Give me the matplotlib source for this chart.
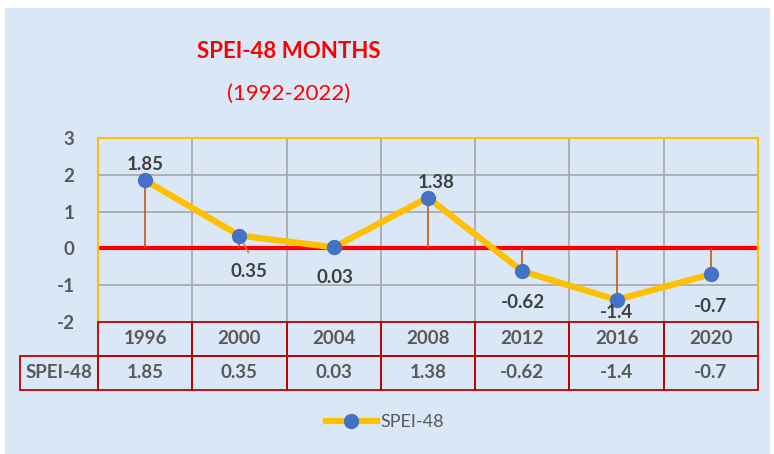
import matplotlib.pyplot as plt
from matplotlib.patches import Rectangle
from matplotlib.lines import Line2D

years = ["1996", "2000", "2004", "2008", "2012", "2016", "2020"]
spei = [1.85, 0.35, 0.03, 1.38, -0.62, -1.4, -0.7]
yticks = [-2, -1, 0, 1, 2, 3]
series_name = "SPEI-48"

W, H = 774, 454
bg = "#DAE7F6"
gold = "#FFC000"
dark = "#595959"
red_border = "#C00000"
fnt = "Lato"
fs = 13.5

fig = plt.figure(figsize=(W / 100, H / 100), dpi=100)
fig.patch.set_facecolor("white")
fig.patches.append(Rectangle((5 / W, 0), (W - 10) / W, (H - 8) / H,
                             transform=fig.transFigure, color=bg, zorder=-10))

def px(x0, y0, x1, y1):
    return [x0 / W, 1 - y1 / H, (x1 - x0) / W, (y1 - y0) / H]

ax = fig.add_axes(px(98, 138, 758, 322))
ax.set_facecolor("none")
n = len(years)
xs = list(range(n))
ax.set_xlim(-0.5, n - 0.5)
ax.set_ylim(-2, 3)

# grid
for y in yticks:
    ax.axhline(y, color="#A6A6A6", lw=1.2, zorder=1)
for i in range(1, n):
    ax.axvline(i - 0.5, color="#A6A6A6", lw=1.2, zorder=1)
for s in ["top", "left", "right"]:
    ax.spines[s].set_color(gold)
    ax.spines[s].set_linewidth(1.5)
ax.spines["bottom"].set_visible(False)
ax.axhline(0, color="#FF0000", lw=3, zorder=2)

ax.set_xticks([])
ax.set_yticks(yticks)
ax.set_yticklabels([str(t) for t in yticks], fontfamily=fnt, fontweight="bold",
                   fontsize=fs, color=dark)
ax.tick_params(axis="y", length=0, pad=17)

# drop lines
ax.vlines(xs, 0, spei, color="#C55A11", lw=1.2, zorder=3)
ax.plot(xs, spei, color=gold, lw=4.5, marker="o", markersize=10,
        markerfacecolor="#4472C4", markeredgecolor="#4472C4", zorder=4,
        label=series_name)

# data labels (pixel offsets from the point)
offsets = [(0, 16), (10, -36), (1, -30), (8, 15), (1, -31), (0, -13), (0, -32)]
for x, v, (dx, dy) in zip(xs, spei, offsets):
    ax.annotate(f"{v:g}", (x, v), xytext=(dx, dy), textcoords="offset pixels",
                ha="center", va="center", fontfamily=fnt, fontweight="bold",
                fontsize=fs, color="#404040", zorder=5)
ax.plot([xs[1], xs[1] + 0.095], [spei[1], spei[1] - 0.46], color="#ED7D31", lw=1.2, zorder=3)

# data table
tab = fig.add_axes(px(20, 322, 758, 390))
tab.set_facecolor("none")
left = -0.5 - 78 / (660 / n)
tab.set_xlim(left, n - 0.5)
tab.set_ylim(0, 2)
tab.axis("off")
for i, (yr, v) in enumerate(zip(years, spei)):
    tab.add_patch(Rectangle((i - 0.5, 1), 1, 1, fill=False, ec=red_border, lw=1.3, clip_on=False))
    tab.add_patch(Rectangle((i - 0.5, 0), 1, 1, fill=False, ec=red_border, lw=1.3, clip_on=False))
    tab.text(i, 1.5, yr, ha="center", va="center", fontfamily=fnt, fontweight="bold",
             fontsize=fs, color=dark)
    tab.text(i, 0.5, f"{v:g}", ha="center", va="center", fontfamily=fnt, fontweight="bold",
             fontsize=fs, color=dark)
tab.add_patch(Rectangle((left, 0), -0.5 - left, 1, fill=False, ec=red_border, lw=1.3, clip_on=False))
tab.text((left - 0.5) / 2, 0.5, series_name, ha="center", va="center", fontfamily=fnt,
         fontweight="bold", fontsize=fs, color=dark)

# titles
fig.text(289 / W, 1 - 52 / H, "SPEI-48 MONTHS", ha="center", va="center", color="#FF0000",
         fontfamily=fnt, fontweight="bold", fontsize=16)
fig.text(289 / W, 1 - 94 / H, "(1992-2022)", ha="center", va="center", color="#FF0000",
         fontfamily=fnt, fontsize=16)

# legend
handle = Line2D([], [], color=gold, lw=4.5, marker="o", markersize=10,
                markerfacecolor="#4472C4", markeredgecolor="#4472C4")
fig.legend([handle], [series_name], loc="center", bbox_to_anchor=(385 / W, 1 - 422 / H),
           frameon=False, prop={"family": fnt, "size": 13}, labelcolor=dark,
           handlelength=2.8, handletextpad=0.2)

fig.savefig("out.png", dpi=100)
